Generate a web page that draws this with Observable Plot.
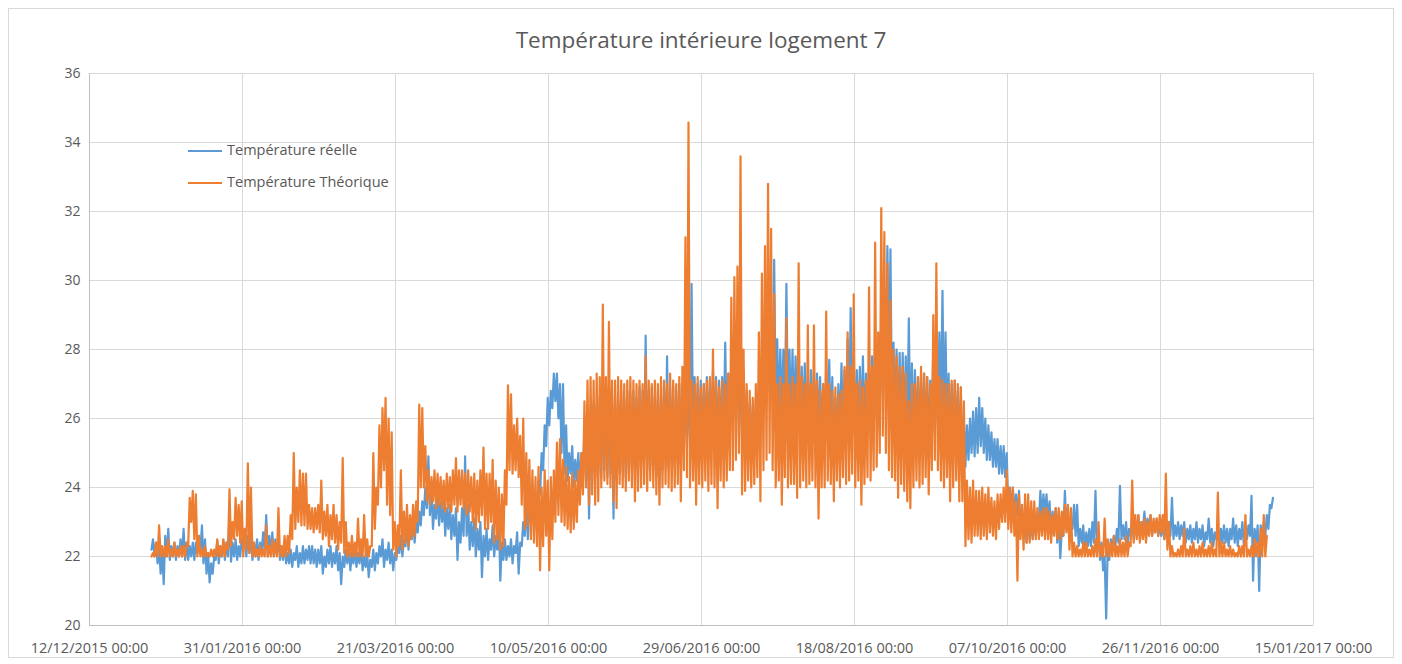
<!DOCTYPE html>
<html><head><meta charset="utf-8">
<script src="https://cdn.jsdelivr.net/npm/d3@7"></script>
<script src="https://cdn.jsdelivr.net/npm/@observablehq/plot@0.6"></script>
<style>
body{margin:0;background:#fff;font-family:"Open Sans",sans-serif;}
#wrap{position:relative;width:1402px;height:664px;overflow:hidden;}
#frame{position:absolute;left:8px;top:8px;width:1386px;height:650px;border:1px solid #d9d9d9;box-sizing:border-box;}
#chart{position:absolute;left:0;top:0;}
#title{position:absolute;left:0;width:1402px;top:24px;text-align:center;font-size:22.5px;color:#595959;}
.leg{position:absolute;font-size:14.5px;color:#595959;line-height:18px;white-space:nowrap;}
.leg span{display:inline-block;width:34px;height:2.5px;vertical-align:middle;margin-right:5px;}
</style></head>
<body>
<div id="wrap"><div id="frame"></div><div id="chart"></div><div id="title">Température intérieure logement 7</div><div id="legend"></div></div>
<script>
const startDate = "2016-01-01";
// Daily minimum / maximum, one entry per day from 01/01/2016
const reelleMin = [
22.2,22.0,21.8,21.5,21.2,22.0,21.9,22.0,21.9,22.0,
22.0,21.9,21.9,22.0,21.9,22.1,22.2,21.8,21.5,21.25,
21.5,21.9,21.8,22.0,21.9,22.0,21.85,22.0,21.9,22.0,
22.2,22.0,22.1,21.9,22.0,21.9,22.1,22.2,22.0,22.1,
22.0,22.1,21.9,21.9,21.8,21.8,21.7,21.9,21.7,21.8,
21.8,21.9,21.8,21.8,21.7,21.8,21.5,21.7,21.8,21.7,
21.8,21.6,21.2,21.7,21.8,21.6,21.8,21.7,21.8,21.6,
21.7,21.4,21.7,21.6,21.8,22.0,21.7,21.9,21.8,21.6,
21.9,22.1,22.0,22.3,22.2,22.5,22.4,22.7,22.9,23.2,
23.4,23.2,22.8,23.1,22.9,23.0,22.6,22.8,22.5,22.6,
21.9,22.4,22.6,22.6,22.2,22.3,22.0,22.2,21.4,22.0,
21.9,22.2,22.0,22.2,21.3,21.9,21.9,22.0,21.8,22.1,
21.5,22.3,22.6,22.5,23.0,23.0,23.3,23.8,24.5,25.2,
25.8,26.3,26.5,26.0,25.0,24.4,24.2,24.4,24.0,24.2,
24.0,24.3,24.2,23.1,24.2,24.3,24.4,24.3,24.5,24.3,
24.4,23.1,24.2,24.4,24.5,24.3,24.4,24.5,24.6,24.5,
24.6,24.8,24.5,24.6,24.5,24.3,24.0,24.5,24.8,24.6,
24.8,24.6,24.8,24.7,25.0,25.2,25.4,25.3,25.2,25.3,
25.2,25.3,25.2,25.4,25.3,25.0,25.2,25.5,25.4,25.6,
26.0,26.2,25.5,25.4,25.0,24.8,25.0,25.1,25.3,25.6,
26.0,26.5,26.8,26.5,26.2,26.0,26.0,26.1,26.0,25.9,
25.8,25.9,25.6,25.7,25.5,25.6,25.4,25.6,25.5,25.4,
25.5,25.6,25.4,24.6,25.2,25.4,25.3,25.6,25.8,25.5,
25.4,25.6,25.5,25.4,25.6,25.7,25.8,26.0,26.3,26.8,
27.5,27.0,26.0,25.8,25.6,25.5,25.4,25.5,25.3,25.4,
25.3,25.4,25.2,25.3,25.2,25.5,25.6,25.8,26.0,25.8,
25.5,25.3,25.2,25.0,25.0,24.8,24.6,24.8,25.0,24.9,
25.0,25.2,25.0,24.8,24.8,24.6,24.6,24.4,24.4,24.3,
23.3,23.3,23.1,23.2,22.7,22.6,22.4,22.5,22.5,22.6,
23.0,23.1,23.2,23.0,22.6,22.8,22.4,21.95,22.6,22.8,
22.5,22.8,22.6,22.3,22.4,22.2,22.3,22.3,22.4,22.2,
21.9,21.6,20.2,21.9,22.2,22.3,22.4,22.5,22.5,22.3,
22.6,22.5,22.7,22.6,22.8,22.7,22.8,22.6,22.7,22.6,
22.6,22.5,22.6,22.6,22.5,22.6,22.5,22.6,22.4,22.5,
22.4,22.5,22.4,22.5,22.3,22.5,22.4,22.3,22.5,22.3,
22.4,22.4,22.3,22.5,22.4,22.3,22.5,22.3,22.5,22.6,
21.3,22.4,21.0,22.4,22.6,22.8,23.4
];
const reelleMax = [
22.5,22.4,22.3,22.2,22.6,22.8,22.3,22.4,22.3,22.5,
22.8,22.4,22.3,22.4,22.4,22.6,22.9,22.5,22.1,21.8,
22.0,22.45,22.3,22.45,22.4,23.2,22.4,22.5,22.3,22.5,
22.8,22.6,22.7,22.4,22.5,22.4,22.7,23.2,22.6,22.7,
22.5,22.5,22.3,22.4,22.1,22.2,22.1,22.3,22.1,22.3,
22.2,22.3,22.3,22.2,22.2,22.3,22.0,22.2,22.3,22.1,
22.3,22.1,22.0,22.2,22.3,22.1,22.2,22.1,22.3,22.0,
22.1,21.9,22.2,22.1,22.3,22.5,22.2,22.4,22.2,22.1,
22.3,22.6,22.5,22.9,22.8,23.1,23.0,23.3,23.6,24.0,
24.9,24.0,23.5,23.9,23.6,23.7,23.4,23.5,23.2,23.4,
23.0,23.4,24.9,23.5,23.0,23.1,22.8,23.0,22.6,22.8,
22.5,22.9,22.6,23.2,22.4,22.5,22.3,22.5,22.3,22.7,
22.4,23.0,23.6,23.5,24.1,23.8,24.2,25.0,25.8,26.6,
26.8,27.3,27.3,27.0,27.0,25.8,25.0,25.2,24.8,25.0,
25.0,25.8,26.0,26.2,26.5,26.4,26.6,26.5,26.6,26.5,
26.5,26.6,26.5,26.8,26.6,26.8,26.7,26.8,26.6,26.9,
26.8,28.4,26.8,26.9,26.7,26.8,26.6,26.9,27.8,26.9,
26.9,26.8,27.0,26.9,27.2,27.0,29.9,27.2,27.0,27.1,
27.0,27.2,27.1,27.4,27.2,27.1,27.2,28.2,27.3,27.6,
28.5,28.8,28.0,27.3,26.8,26.5,26.4,26.6,27.0,27.5,
28.5,29.5,29.0,30.6,28.3,28.0,28.0,29.9,28.0,28.0,
27.8,28.0,27.5,27.6,27.2,27.4,27.3,27.3,27.2,27.0,
27.4,27.7,27.2,26.6,27.0,27.6,27.4,28.3,29.2,27.8,
27.4,27.5,27.8,27.3,27.4,27.8,28.2,27.8,28.8,29.8,
31.0,30.9,28.2,28.0,27.9,27.9,27.8,28.9,27.6,27.4,
27.2,27.3,27.3,27.2,27.1,28.0,27.6,28.5,29.7,28.5,
27.3,27.0,27.1,26.8,26.9,26.0,25.8,26.0,26.2,26.3,
26.6,26.3,26.0,25.8,25.6,25.4,25.4,25.2,25.2,25.0,
24.0,24.0,23.8,23.9,23.4,23.2,23.1,23.0,23.0,23.1,
23.9,23.8,23.8,23.6,23.3,23.4,23.3,22.8,23.9,23.4,
23.0,23.5,23.5,22.8,22.9,22.7,22.8,23.0,23.9,22.6,
22.4,22.0,22.3,22.5,22.6,22.8,24.05,22.9,23.0,22.8,
23.0,22.9,23.2,23.0,23.3,23.1,23.2,23.0,23.1,23.0,
23.0,22.9,23.0,23.7,22.9,23.0,22.9,23.0,22.8,22.9,
22.8,23.0,22.8,22.9,22.7,23.1,22.8,22.7,22.9,22.8,
22.9,22.8,22.8,23.1,22.9,22.8,23.0,22.8,22.9,23.76,
22.8,22.9,22.9,23.0,23.2,23.5,23.7
];
const theoriqueMin = [
22.0,22.0,22.0,22.0,22.0,22.0,22.0,22.0,22.0,22.0,
22.0,22.0,22.3,23.0,22.5,22.0,22.0,22.0,22.0,22.0,
22.0,22.0,22.0,22.0,22.0,22.2,22.3,22.5,22.6,22.4,
22.0,22.2,22.1,22.0,22.0,22.0,22.0,22.0,22.0,22.0,
22.0,22.0,22.0,22.0,22.0,22.1,22.5,22.8,23.0,22.9,
22.9,22.8,22.8,22.7,22.8,22.7,22.5,22.6,22.3,22.5,
22.4,22.2,22.4,22.1,22.0,22.0,22.0,22.0,22.0,22.0,
22.0,22.0,22.3,22.8,23.5,24.0,24.5,23.5,23.2,22.2,
22.0,22.3,22.2,22.4,22.3,22.5,22.6,23.0,24.0,24.0,
23.6,23.5,23.6,23.4,23.5,23.4,23.3,23.4,23.3,23.5,
23.3,23.5,23.4,23.2,23.3,23.0,22.8,23.0,23.2,22.8,
22.8,23.0,22.4,22.5,22.2,22.3,23.5,24.5,24.4,24.5,
24.3,23.5,22.8,22.9,22.5,22.4,22.3,21.6,22.3,22.6,
21.6,22.5,23.0,23.2,23.0,22.9,22.8,22.7,22.8,23.0,
23.5,23.8,24.0,23.5,23.8,23.5,23.6,24.0,24.2,24.1,
24.0,23.6,23.4,24.1,24.0,23.9,24.2,24.0,23.6,23.9,
24.0,24.1,23.9,24.2,24.0,23.8,23.5,24.0,24.1,24.0,
23.9,24.0,24.1,23.6,24.5,24.3,24.0,24.2,23.5,24.1,
24.0,24.2,23.9,24.1,24.0,23.4,24.2,24.0,24.2,24.5,
24.5,24.8,25.0,23.8,23.9,24.2,24.0,24.1,24.3,23.6,
24.5,24.8,25.0,24.5,24.0,24.2,23.5,24.3,24.0,24.1,
24.1,23.7,24.0,24.2,24.0,24.1,24.2,24.0,23.1,24.0,
24.0,24.2,24.1,23.6,24.2,24.0,24.3,24.1,24.2,24.4,
24.0,24.2,23.5,24.1,24.3,24.2,24.5,24.6,25.0,25.5,
25.0,24.5,24.3,24.2,23.7,24.1,23.9,23.6,23.4,24.0,
24.2,24.0,24.1,24.3,23.8,24.5,24.8,24.5,24.2,24.0,
24.3,23.6,24.0,24.2,23.6,23.6,22.3,22.5,22.4,22.6,
22.6,22.5,22.6,22.5,22.7,22.6,22.5,22.8,23.0,23.0,
22.8,22.7,22.6,21.3,22.5,22.2,22.4,22.4,22.5,22.5,
22.5,22.6,22.5,22.5,22.4,22.6,22.5,22.5,22.6,22.7,
22.2,22.0,22.0,22.0,22.0,22.0,22.0,22.0,22.0,22.0,
22.0,22.0,22.0,22.0,22.0,22.0,22.0,22.0,22.0,22.0,
22.3,22.4,22.5,22.4,22.5,22.4,22.6,22.6,22.7,22.6,
22.7,22.5,22.2,22.0,22.0,22.0,22.0,22.0,22.0,22.0,
22.0,22.0,22.0,22.0,22.0,22.0,22.0,22.0,22.0,22.0,
22.0,22.0,22.0,22.0,22.0,22.0,22.0,22.0,22.0,22.0,
22.0,22.0,22.0,22.0,22.0
];
const theoriqueMax = [
22.1,22.4,22.9,22.3,22.3,22.5,22.2,22.4,22.2,22.3,
22.3,22.4,23.7,23.9,23.8,22.6,22.2,22.3,22.1,22.2,
22.2,22.5,22.3,22.5,22.4,23.95,23.0,23.7,23.5,23.6,
22.8,24.7,24.0,22.4,22.2,22.3,22.2,22.9,22.3,22.5,
22.4,23.4,22.3,22.6,22.6,23.2,25.0,24.0,24.5,24.4,
24.4,23.5,23.4,23.4,23.5,24.2,23.3,23.5,23.2,23.5,
23.2,23.0,24.85,23.0,22.4,22.6,22.4,23.1,22.5,23.2,
22.5,22.3,25.0,24.0,25.8,26.3,26.6,26.0,25.6,23.0,
22.9,24.5,23.3,23.5,23.2,23.5,23.6,26.4,26.3,25.2,
24.5,24.3,24.5,24.4,24.3,24.2,24.4,24.3,24.5,24.85,
24.5,24.5,24.4,24.5,24.3,24.4,24.2,24.5,25.16,24.4,
24.4,24.8,24.2,24.0,23.8,24.5,26.96,26.7,25.8,26.0,
25.5,26.0,25.0,24.8,24.5,24.3,24.6,24.0,24.5,24.2,
24.3,24.5,25.3,25.4,24.8,24.6,24.3,24.4,24.2,24.5,
25.0,26.5,27.1,27.2,27.1,27.3,27.2,29.3,27.2,28.8,
27.1,27.1,27.2,27.1,27.0,27.1,27.2,27.1,27.0,27.1,
27.0,27.8,27.1,27.0,27.1,27.0,27.2,27.1,27.0,27.3,
27.1,27.0,27.2,27.5,31.25,34.58,27.1,27.0,27.2,26.9,
27.0,27.1,27.2,28.0,27.1,26.9,27.1,27.0,27.3,29.5,
30.1,30.4,33.6,28.0,27.0,26.8,26.6,27.0,28.5,30.2,
31.0,32.8,31.5,29.6,27.0,27.2,27.0,28.9,27.0,27.2,
27.0,30.5,27.2,27.0,28.7,27.0,28.7,27.1,26.8,27.0,
29.1,27.0,26.8,26.9,26.7,26.8,27.5,28.5,27.5,29.6,
27.0,27.1,26.9,27.1,29.8,27.5,31.1,28.5,32.1,31.4,
30.5,29.4,28.0,27.8,27.5,27.5,27.3,26.5,27.0,27.0,
27.2,27.5,27.3,27.2,27.0,29.0,30.5,27.2,27.1,27.0,
27.0,27.1,27.1,27.0,26.9,26.5,24.2,24.0,24.2,23.9,
23.9,24.0,23.8,24.0,23.7,23.6,23.8,23.8,24.0,24.5,
24.0,24.0,23.6,23.8,23.5,23.8,23.8,23.6,23.6,23.4,
23.3,23.4,23.4,23.3,23.2,23.4,23.4,23.3,23.5,23.5,
23.4,22.4,22.3,22.2,22.4,22.4,22.2,22.3,22.5,23.0,
22.3,23.1,22.5,22.4,22.6,22.3,22.5,22.4,22.6,22.4,
24.2,23.2,23.2,23.0,23.1,23.0,23.2,23.1,23.1,23.2,
23.2,24.4,23.0,22.3,22.1,22.2,22.3,22.8,22.2,22.3,
22.4,22.2,22.3,22.4,22.2,22.3,22.4,22.2,23.85,22.4,
22.4,22.2,22.3,22.2,22.1,22.3,22.3,23.2,22.2,22.3,
22.5,22.4,22.8,23.2,22.6
];
const tickDates = ["2015-12-12","2016-01-31","2016-03-21","2016-05-10","2016-06-29","2016-08-18","2016-10-07","2016-11-26","2017-01-15"];
const yTicks = [20,22,24,26,28,30,32,34,36];
const seriesNames = ["Température réelle","Température Théorique"];
const seriesColors = ["#5B9BD5","#ED7D31"];

const t0 = new Date(startDate + "T00:00:00Z");
const HOUR = 36e5;
// each day: minimum in the early morning, maximum in the evening
function toRows(mins, maxs, name) {
  const rows = [];
  mins.forEach((v, i) => {
    const base = +t0 + i * 24 * HOUR;
    rows.push({date: new Date(base + 6 * HOUR), value: v, serie: name});
    rows.push({date: new Date(base + 18 * HOUR), value: maxs[i], serie: name});
  });
  return rows;
}
const rowsR = toRows(reelleMin, reelleMax, seriesNames[0]);
const rowsT = toRows(theoriqueMin, theoriqueMax, seriesNames[1]);
const ticks = tickDates.map(s => new Date(s + "T00:00:00Z"));
const fmt = d3.utcFormat("%d/%m/%Y %H:%M");

const chart = Plot.plot({
  width: 1402, height: 664,
  marginLeft: 89, marginRight: 89, marginTop: 73, marginBottom: 39,
  style: {fontFamily: "'Open Sans', sans-serif", fontSize: "14px", color: "#595959", background: "transparent"},
  x: {type: "utc", domain: [ticks[0], ticks[ticks.length - 1]]},
  y: {domain: [20, 36]},
  marks: [
    Plot.gridY(yTicks, {stroke: "#d9d9d9", strokeOpacity: 1}),
    Plot.gridX(ticks, {stroke: "#d9d9d9", strokeOpacity: 1}),
    Plot.ruleX([ticks[0]], {stroke: "#bfbfbf"}),
    Plot.ruleY([20], {stroke: "#bfbfbf"}),
    Plot.axisY(yTicks, {tickSize: 0, tickPadding: 9, label: null, fill: "#595959", fontSize: 14}),
    Plot.axisX(ticks, {tickSize: 0, tickPadding: 17, label: null, tickFormat: fmt, fill: "#595959", fontSize: 14.5}),
    Plot.line(rowsR, {x: "date", y: "value", stroke: seriesColors[0], strokeWidth: 2.2, strokeLinejoin: "round"}),
    Plot.line(rowsT, {x: "date", y: "value", stroke: seriesColors[1], strokeWidth: 2.2, strokeLinejoin: "round"})
  ]
});
document.getElementById("chart").appendChild(chart);

const legend = document.getElementById("legend");
const legendTops = [141, 173];
seriesNames.forEach((name, i) => {
  const d = document.createElement("div");
  d.className = "leg";
  d.style.left = "188px";
  d.style.top = legendTops[i] + "px";
  d.innerHTML = `<span style="background:${seriesColors[i]}"></span>${name}`;
  legend.appendChild(d);
});
</script>
</body></html>
